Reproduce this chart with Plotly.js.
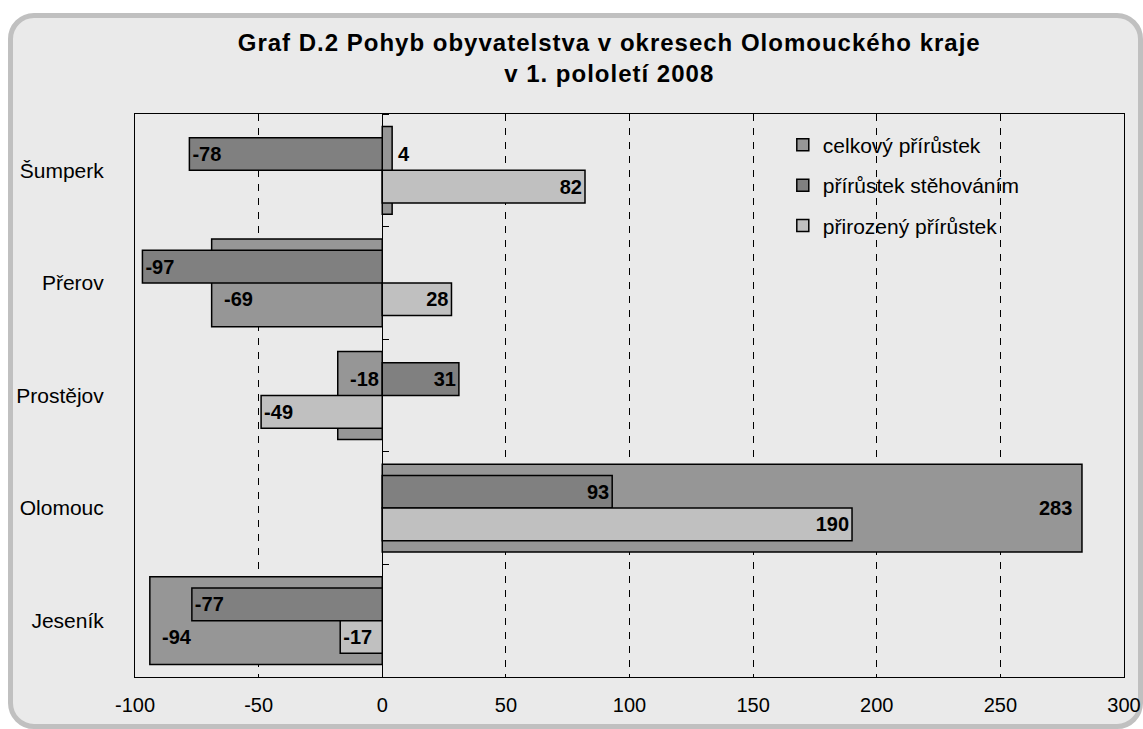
<!DOCTYPE html>
<html><head><meta charset="utf-8">
<script src="https://cdn.plot.ly/plotly-3.0.1.min.js"></script>
<style>
html,body{margin:0;padding:0;background:#fff;}
#frame{position:absolute;left:8px;top:13px;width:1135px;height:716px;box-sizing:border-box;border:5px solid #c0c0c0;border-radius:26px;background:#eaeaea;}
#chart{position:absolute;left:0;top:0;width:1143px;height:729px;}
#chart .gtitle{letter-spacing:1px;}
</style></head><body>
<div id="frame"></div><div id="chart"></div>
<script>
const districts = ['Šumperk', 'Přerov', 'Prostějov', 'Olomouc', 'Jeseník'];
const totalGrowth = [4, -69, -18, 283, -94];
const migrationGrowth = [-78, -97, 31, 93, -77];
const naturalGrowth = [82, 28, -49, 190, -17];
const seriesNames = ['celkový přírůstek', 'přírůstek stěhováním', 'přirozený přírůstek'];
const xTickValues = [-100, -50, 0, 50, 100, 150, 200, 250, 300];
const xTickLabels = ['-100', '-50', '0', '50', '100', '150', '200', '250', '300'];

const FONT = 'Liberation Sans, Arial, sans-serif';
const xMin = -100, xMax = 300;
const margin = {l: 135, r: 19, t: 114, b: 52};
const plotW = 1143 - margin.l - margin.r;
const pxPerUnit = plotW / (xMax - xMin);
const narrow = 0.29;

const outline = {color: '#000', width: 1.5};
const labelFont = {family: FONT, size: 20, color: '#000', weight: 'bold'};

const traces = [
  {type: 'bar', orientation: 'h', name: seriesNames[0], legendgroup: 'g1',
   y: districts, x: totalGrowth, width: 0.78, offset: -0.39,
   marker: {color: '#969696', line: outline}, hoverinfo: 'skip'},
  {type: 'bar', orientation: 'h', name: seriesNames[1], legendgroup: 'g2', yaxis: 'y2',
   y: districts, x: migrationGrowth, width: narrow, offset: -narrow,
   text: migrationGrowth.map(String), textposition: 'inside', insidetextanchor: 'end',
   constraintext: 'none', textfont: labelFont, insidetextfont: labelFont,
   marker: {color: '#808080', line: outline}, hoverinfo: 'skip'},
  {type: 'bar', orientation: 'h', name: seriesNames[2], legendgroup: 'g3', yaxis: 'y2',
   y: districts, x: naturalGrowth, width: narrow, offset: 0,
   text: naturalGrowth.map(String), textposition: 'inside', insidetextanchor: 'end',
   constraintext: 'none', textfont: labelFont, insidetextfont: labelFont,
   marker: {color: '#C0C0C0', line: outline}, hoverinfo: 'skip'}
];

// labels of the total series: put them in the half of the band not covered by a narrow bar
const annotations = totalGrowth.map((t, i) => {
  const lim = Math.abs(t) - 20;
  const blocks = v => Math.sign(v) === Math.sign(t) && Math.abs(v) > lim;
  const upB = blocks(migrationGrowth[i]), loB = blocks(naturalGrowth[i]);
  let dy = 0;
  if (upB && !loB) dy = narrow / 2;
  else if (!upB && loB) dy = -narrow / 2;
  const txt = String(t);
  const fits = Math.abs(t) * pxPerUnit > txt.length * 11 + 10;
  let xanchor, xshift;
  if (fits) { xanchor = t > 0 ? 'right' : 'left'; xshift = t > 0 ? -8 : 10; }
  else { xanchor = t > 0 ? 'left' : 'right'; xshift = t > 0 ? 4 : -4; }
  return {xref: 'x', yref: 'y', x: t, y: i + dy, text: txt, showarrow: false,
          xanchor, yanchor: 'middle', xshift, font: labelFont};
});

const layout = {
  width: 1143, height: 729, margin,
  paper_bgcolor: 'rgba(0,0,0,0)', plot_bgcolor: 'rgba(0,0,0,0)',
  font: {family: FONT, size: 20, color: '#000'},
  title: {text: 'Graf D.2 Pohyb obyvatelstva v okresech Olomouckého kraje<br>v 1. pololetí 2008',
          font: {family: FONT, size: 24, color: '#000', weight: 'bold'},
          x: 0.533, xanchor: 'center', yref: 'container', y: 0.930, yanchor: 'top'},
  barmode: 'overlay',
  showlegend: true,
  legend: {x: 0.655, y: 0.981, xanchor: 'left', yanchor: 'top', bgcolor: 'rgba(0,0,0,0)',
           font: {family: FONT, size: 21, color: '#000'}, traceorder: 'grouped', tracegroupgap: 10},
  xaxis: {range: [xMin, xMax], tickmode: 'array', tickvals: xTickValues, ticktext: xTickLabels,
          showgrid: true, gridcolor: '#000', gridwidth: 1, griddash: '7px,7px',
          zeroline: true, zerolinecolor: '#000', zerolinewidth: 1,
          showline: true, mirror: true, linecolor: '#000', linewidth: 1,
          ticks: '', ticklabelstandoff: 10, tickfont: {family: FONT, size: 20, color: '#000'},
          fixedrange: true},
  yaxis: {type: 'category', categoryorder: 'array', categoryarray: districts,
          range: [districts.length - 0.5, -0.5], autorange: false,
          showgrid: false, zeroline: false, showline: true, mirror: true, linecolor: '#000', linewidth: 1,
          ticks: '', ticklabelstandoff: 26, tickfont: {family: FONT, size: 21, color: '#000'},
          fixedrange: true},
  yaxis2: {type: 'category', categoryorder: 'array', categoryarray: districts,
           overlaying: 'y', anchor: 'free', position: (0 - xMin) / (xMax - xMin), side: 'right',
           range: [districts.length - 0.5, -0.5], autorange: false,
           tickson: 'boundaries', ticks: 'outside', ticklen: 6, tickcolor: '#000', tickwidth: 1,
           showticklabels: false, showgrid: false, zeroline: false, showline: false, fixedrange: true},
  annotations
};

Plotly.newPlot('chart', traces, layout, {displayModeBar: false, staticPlot: true});
</script>
</body></html>
